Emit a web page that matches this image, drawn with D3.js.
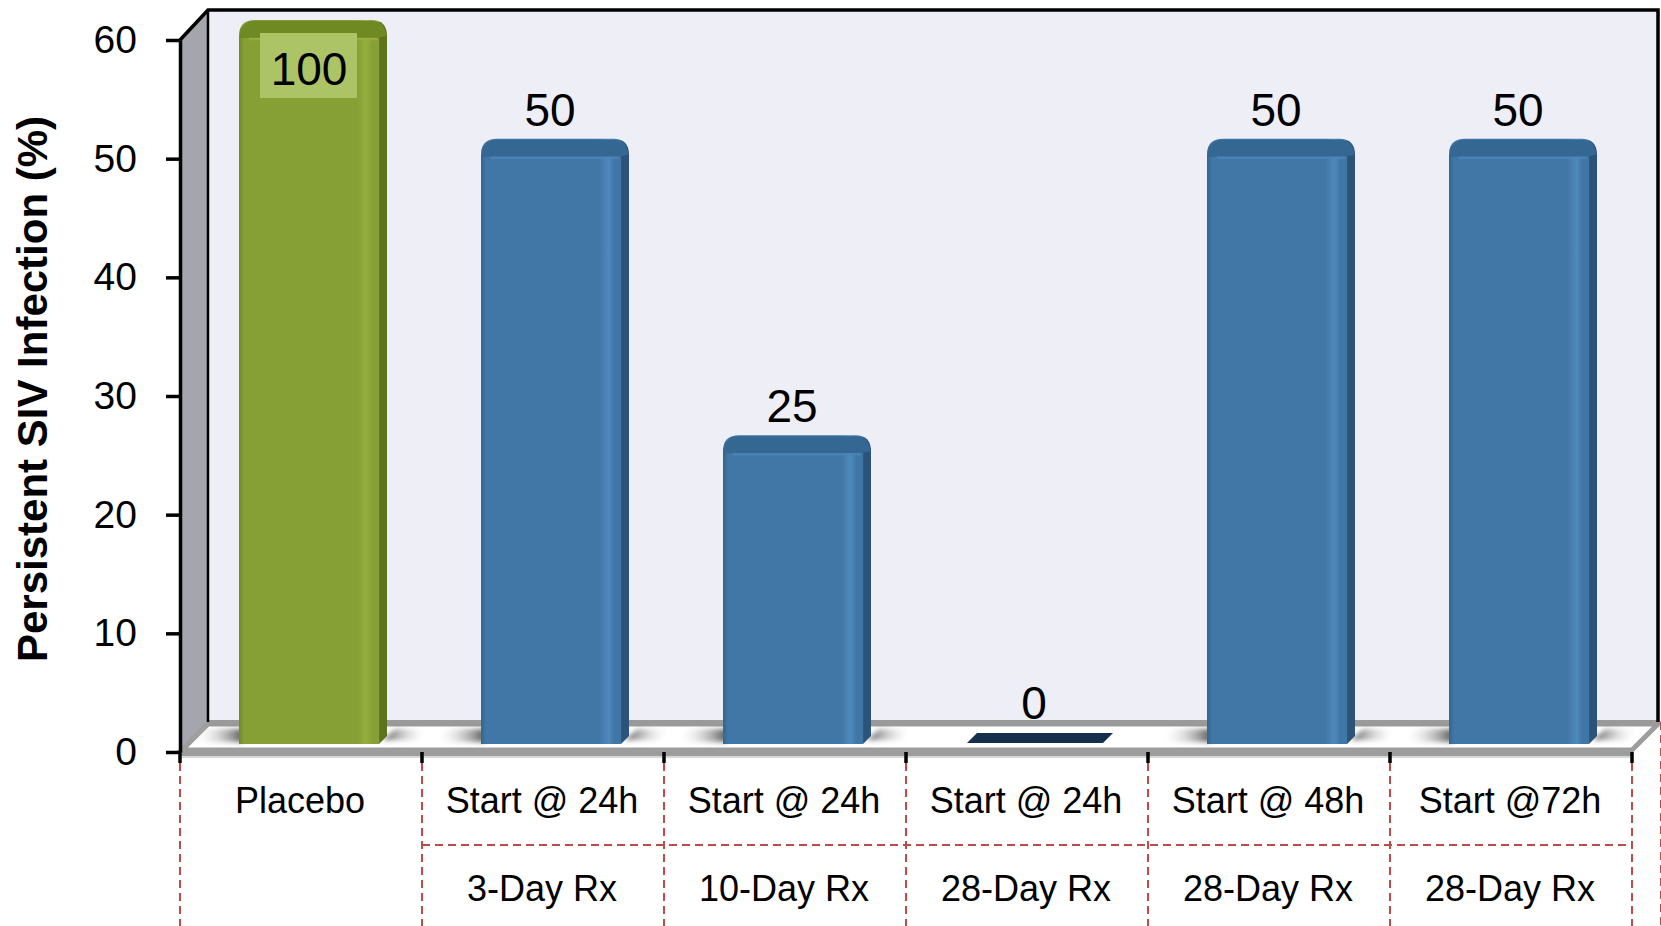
<!DOCTYPE html>
<html>
<head>
<meta charset="utf-8">
<script src="https://cdn.jsdelivr.net/npm/d3@7"></script>
<style>
  body { margin: 0; background: #fff; }
  svg { display: block; font-family: "Liberation Sans", Arial, sans-serif; }
</style>
</head>
<body>
<svg width="1661" height="926"></svg>
<script>
// chart data
const groups = ["Placebo", "Start @ 24h", "Start @ 24h", "Start @ 24h", "Start @ 48h", "Start @72h"]
const regimens = ["", "3-Day Rx", "10-Day Rx", "28-Day Rx", "28-Day Rx", "28-Day Rx"]
const values = [100, 50, 25, 0, 50, 50]
const yTicks = [0, 10, 20, 30, 40, 50, 60]
const ids = d3.range(groups.length)

const svg = d3.select("svg")
const defs = svg.append("defs")

// 3d depth of the box
const dx = 28, dy = 30

const x = d3.scaleBand()
    .domain(ids)
    .range([178, 1630])
const y = d3.scaleLinear()
    .domain([0, 60])
    .range([752, 40])

const x0 = x.range()[0], x1 = x.range()[1]
const yBot = y(0), yTop = y(60)

// bar gradients
function barGrad(id, c) {
	const g = defs.append("linearGradient").attr("id", id)
		.attr("x1", 0).attr("x2", 1).attr("y1", 0).attr("y2", 0)
	const stops = [[0, c.edge], [0.035, c.main], [0.8, c.main], [0.86, c.hi], [0.9, c.main], [0.945, c.main], [0.95, c.side], [1, c.side]]
	stops.forEach(s => g.append("stop").attr("offset", s[0]).attr("stop-color", s[1]))
}
const blue = {edge: "#34648F", main: "#4177A7", hi: "#4F89BC", side: "#2C5379", top: "#356793", rim: "#4E84B6"}
const green = {edge: "#6E8A26", main: "#86A035", hi: "#95AF3F", side: "#5D731B", top: "#6F8A23", rim: "#98B140"}
barGrad("gBlue", blue)
barGrad("gGreen", green)

const shL = defs.append("linearGradient").attr("id", "shL")
shL.append("stop").attr("offset", 0).attr("stop-color", "#fff").attr("stop-opacity", 0)
shL.append("stop").attr("offset", 1).attr("stop-color", "#444").attr("stop-opacity", 0.9)
const shR = defs.append("linearGradient").attr("id", "shR")
shR.append("stop").attr("offset", 0).attr("stop-color", "#444").attr("stop-opacity", 0.9)
shR.append("stop").attr("offset", 1).attr("stop-color", "#fff").attr("stop-opacity", 0)
defs.append("filter").attr("id", "soft")
	.attr("x", "-20%").attr("y", "-50%").attr("width", "140%").attr("height", "200%")
	.append("feGaussianBlur").attr("stdDeviation", 2.5)

// walls
svg.append("rect")
	.attr("x", x0 + dx + 2).attr("y", yTop - dy)
	.attr("width", x1 - x0).attr("height", yBot - yTop)
	.style("fill", "#EEEEF6")
svg.append("polygon")
	.attr("points", [[x0 + 2, yTop], [x0 + dx + 2, yTop - dy], [x0 + dx + 2, yBot - dy], [x0 + 2, yBot]].join(" "))
	.style("fill", "#A5A5AD")

// floor
svg.append("polygon")
	.attr("points", [[x0 + 4, yBot - 2], [x0 + dx + 2, yBot - dy + 2], [x1 + dx, yBot - dy + 2], [x1 + 2, yBot - 2]].join(" "))
	.style("fill", "#fff").style("stroke", "#9D9D9D").style("stroke-width", 5)
svg.append("line")
	.attr("x1", x0 + dx + 2).attr("x2", x1 + dx).attr("y1", yBot - dy + 1).attr("y2", yBot - dy + 1)
	.style("stroke", "#9A9A9A").style("stroke-width", 6)
svg.append("rect")
	.attr("x", x0 + 2).attr("y", yBot - 2).attr("width", x1 - x0).attr("height", 6)
	.style("fill", "#9D9D9D")
svg.append("line")
	.attr("x1", x0 + 2).attr("x2", x1 + 2).attr("y1", yBot + 5).attr("y2", yBot + 5)
	.style("stroke", "#D8D8D8").style("stroke-width", 2)

// frame
const frame = svg.append("g").style("stroke", "#000").style("fill", "none")
frame.append("polyline")
	.attr("points", [[x0 + 2, yTop], [x0 + dx + 2, yTop - dy], [x1 + dx, yTop - dy], [x1 + dx, yBot - dy]].join(" "))
	.style("stroke-width", 3.5)
frame.append("line")
	.attr("x1", x0 + dx + 2).attr("x2", x0 + dx + 2).attr("y1", yTop - dy).attr("y2", yBot - dy)
	.style("stroke-width", 2.5)

// bars
const bw = 148, off = 61, side = 8
const shadows = svg.append("g").attr("filter", "url(#soft)")
const bars = svg.append("g")
ids.forEach(i => {
	const v = values[i]
	const bx = x(i) + off
	if (v === 0) {
		bars.append("polygon")
			.attr("points", [[bx + 2, yBot - 9], [bx + 12, yBot - 19], [bx + bw, yBot - 19], [bx + bw - 10, yBot - 9]].join(" "))
			.style("fill", "#14304A")
		return
	}
	// floor shadows
	shadows.append("polygon")
		.attr("points", [[bx - 46, yBot - 10], [bx - 34, yBot - 23], [bx + 4, yBot - 23], [bx + 4, yBot - 10]].join(" "))
		.style("fill", "url(#shL)")
	shadows.append("polygon")
		.attr("points", [[bx + bw - 4, yBot - 12], [bx + bw + 8, yBot - 23], [bx + bw + 42, yBot - 23], [bx + bw + 30, yBot - 12]].join(" "))
		.style("fill", "url(#shR)")
	const c = i === 0 ? green : blue
	const top = y(Math.min(v, 60)) - 20
	const bot = yBot - 8
	const r = 16
	const p = d3.path()
	p.moveTo(bx, bot)
	p.lineTo(bx, top + r)
	p.quadraticCurveTo(bx, top, bx + r, top)
	p.lineTo(bx + bw - r, top)
	p.quadraticCurveTo(bx + bw, top, bx + bw, top + r)
	p.lineTo(bx + bw, bot - side)
	p.lineTo(bx + bw - side, bot)
	p.closePath()
	bars.append("path").attr("d", p.toString())
		.style("fill", i === 0 ? "url(#gGreen)" : "url(#gBlue)")
	// top face band
	const t = d3.path()
	t.moveTo(bx + 1, top + r + 2)
	t.quadraticCurveTo(bx + 1, top + 1, bx + r, top + 1)
	t.lineTo(bx + bw - r, top + 1)
	t.quadraticCurveTo(bx + bw - 1, top + 1, bx + bw - 1, top + r)
	t.lineTo(bx + bw - side - 2, top + 18)
	t.lineTo(bx + 10, top + 18)
	t.closePath()
	bars.append("path").attr("d", t.toString()).style("fill", c.top)
	bars.append("line")
		.attr("x1", bx + 10).attr("x2", bx + bw - side - 2)
		.attr("y1", top + 19).attr("y2", top + 19)
		.style("stroke", c.rim).style("stroke-width", 2.5).style("opacity", 0.8)
})

// y axis
svg.append("g")
	.attr("transform", "translate(" + (x0 + 2) + ",0)")
	.call(d3.axisLeft(y).tickValues(yTicks).tickSize(14).tickSizeOuter(0).tickPadding(29))
	.call(g => g.selectAll("line, path").style("stroke", "#000").style("stroke-width", 3.5))
	.call(g => g.selectAll("text").style("font-size", "39px").style("fill", "#000")
		.style("font-family", "'Liberation Sans', Arial, sans-serif"))

// category ticks and dashed grid
const bounds = ids.map(i => x(i)).concat([x1])
const low = svg.append("g")
bounds.forEach(b => {
	low.append("line")
		.attr("x1", b + 2).attr("x2", b + 2).attr("y1", yBot).attr("y2", yBot + 11)
		.style("stroke", "#000").style("stroke-width", 3.5)
	low.append("line")
		.attr("x1", b + 2).attr("x2", b + 2).attr("y1", yBot + 11).attr("y2", 926)
		.style("stroke", "#BE4B48").style("stroke-width", 2).style("stroke-dasharray", "8,5")
})
low.append("line")
	.attr("x1", x1 + dx + 3).attr("x2", x1 + dx + 3).attr("y1", yBot - dy).attr("y2", 926)
	.style("stroke", "#BE4B48").style("stroke-width", 2).style("stroke-dasharray", "8,5")
low.append("line")
	.attr("x1", x(1) + 2).attr("x2", x1 + 2).attr("y1", 845).attr("y2", 845)
	.style("stroke", "#BE4B48").style("stroke-width", 2).style("stroke-dasharray", "8,5")

// category labels
const labels = svg.append("g").style("font-size", "36px").style("fill", "#000").attr("text-anchor", "middle")
ids.forEach(i => {
	const cx = x(i) + x.bandwidth() / 2 + 1
	labels.append("text").attr("x", cx).attr("y", 813).text(groups[i])
	labels.append("text").attr("x", cx).attr("y", 901).text(regimens[i])
})

// value labels
const vl = svg.append("g").style("font-size", "46px").style("fill", "#000").attr("text-anchor", "middle")
ids.forEach(i => {
	const v = values[i]
	const cx = x(i) + x.bandwidth() / 2 + 9
	if (v > 60) {
		const bx = x(i) + off
		vl.append("rect")
			.attr("x", bx + 21).attr("y", 33).attr("width", 97).attr("height", 65)
			.style("fill", "#ADC466")
		vl.append("text").attr("x", bx + 70).attr("y", 85).text(v)
	} else {
		vl.append("text").attr("x", cx).attr("y", y(v) - 33).text(v)
	}
})

// axis title
svg.append("text")
	.attr("transform", "translate(47,389) rotate(-90)")
	.attr("text-anchor", "middle")
	.style("font-size", "42px").style("font-weight", "bold")
	.text("Persistent SIV Infection (%)")
</script>
</body>
</html>
